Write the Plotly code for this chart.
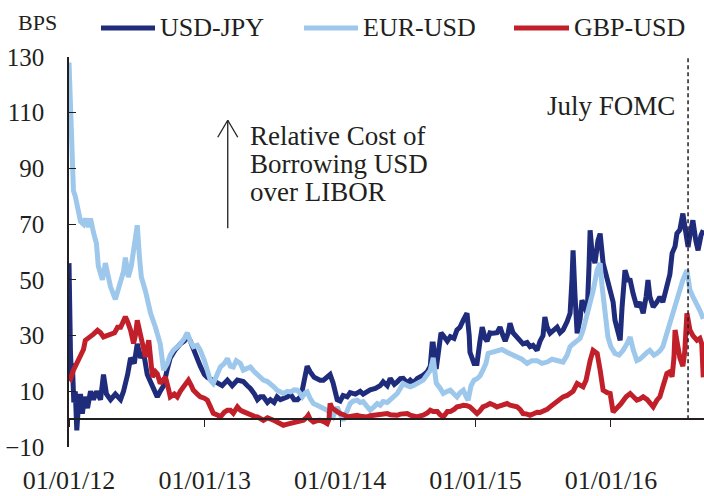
import plotly.graph_objects as go

# ---------------- data ----------------
jpy_dates = ["2012-01-01","2012-01-02","2012-01-05","2012-01-08","2012-01-10","2012-01-14","2012-01-18","2012-01-22","2012-01-26",
"2012-02-01","2012-02-06","2012-02-12","2012-02-20","2012-02-28","2012-03-07","2012-03-15","2012-03-26","2012-04-03","2012-04-11",
"2012-04-22","2012-05-05","2012-05-19","2012-05-27","2012-06-07","2012-06-15","2012-06-25","2012-07-03","2012-07-12","2012-07-20",
"2012-07-30","2012-08-08","2012-08-18","2012-08-26","2012-09-03","2012-09-12","2012-09-22","2012-09-30","2012-10-14","2012-10-27",
"2012-11-07","2012-11-15","2012-11-23","2012-12-01","2012-12-12","2012-12-20","2012-12-31","2013-01-08","2013-01-22","2013-02-04",
"2013-02-17","2013-03-03","2013-03-16","2013-03-30","2013-04-15","2013-04-26","2013-05-04","2013-05-15","2013-05-23","2013-05-31",
"2013-06-08","2013-06-19","2013-06-27","2013-07-07","2013-07-15","2013-07-24","2013-08-01","2013-08-12","2013-08-20","2013-08-30",
"2013-09-08","2013-09-16","2013-09-21","2013-09-29","2013-10-04","2013-10-12","2013-10-23","2013-10-31","2013-11-08","2013-11-17",
"2013-11-27","2013-12-05","2013-12-13","2013-12-19","2013-12-24","2014-01-01","2014-01-09","2014-01-20","2014-01-28","2014-02-11",
"2014-02-24","2014-03-04","2014-03-15","2014-03-23","2014-04-06","2014-04-19","2014-04-27","2014-05-08","2014-05-16","2014-05-27",
"2014-06-04","2014-06-12","2014-06-20","2014-07-01","2014-07-09","2014-07-17","2014-07-28","2014-08-05","2014-08-13","2014-08-24",
"2014-09-01","2014-09-06","2014-09-09","2014-09-17","2014-09-22","2014-09-30","2014-10-06","2014-10-17","2014-10-25","2014-11-04",
"2014-11-12","2014-11-20","2014-11-29","2014-12-09","2014-12-15","2014-12-17","2014-12-28","2015-01-05","2015-01-13","2015-01-19",
"2015-01-27","2015-02-01","2015-02-09","2015-02-17","2015-02-28","2015-03-08","2015-03-16","2015-03-22","2015-03-30","2015-04-04",
"2015-04-12","2015-04-23","2015-05-01","2015-05-09","2015-05-20","2015-05-28","2015-06-05","2015-06-16","2015-06-24","2015-07-02",
"2015-07-07","2015-07-13","2015-07-21","2015-07-29","2015-08-09","2015-08-17","2015-08-25","2015-09-05","2015-09-13","2015-09-18",
"2015-09-21","2015-09-26","2015-10-02","2015-10-10","2015-10-15","2015-10-23","2015-10-29","2015-11-03","2015-11-06","2015-11-11",
"2015-11-19","2015-11-27","2015-12-03","2015-12-11","2015-12-19","2015-12-30","2016-01-07","2016-01-12","2016-01-20","2016-01-26",
"2016-01-31","2016-02-08","2016-02-16","2016-02-22","2016-03-01","2016-03-11","2016-03-19","2016-03-28","2016-04-05","2016-04-10",
"2016-04-15","2016-04-24","2016-05-04","2016-05-12","2016-05-20","2016-05-31","2016-06-08","2016-06-14","2016-06-22","2016-06-27",
"2016-07-05","2016-07-13","2016-07-21","2016-07-27","2016-08-01","2016-08-09","2016-08-17","2016-08-23","2016-08-31","2016-09-06"]
jpy_values = [56,44,24,14,20,6,10,-4,4,
9,2,8,4,10,7,10,7,16,9,
7,9,7,10,16,22,20,27,22,24,
16,13,10,8,10,12,18,22,25,27,
28,30,28,25,22,19,16,15,14,13,
12,14,12,14,13.5,12,11,9,7,8,
8,6,7,6,8,7,7.4,8,9,7,
7,8,10.5,16,19,17,15,14.5,14,14,
15,16,13,10,7,6.5,8.5,8,9.5,9,
10,9,10,10.5,11,12,13.4,12,14.6,12.5,
13.4,14.5,14.6,13,14,13,14.6,15,15.8,17,
19,27,27,18,22,31,30,28,29.6,29,
32,33,35.5,38,30,24,20,20,28,33,
29,28,31,30.8,31,33,30,28,31,34.4,
31,29.5,28,27,27.5,26,26.5,24.7,28,30,
36.7,33,30.8,32,33,31,32,35,38,50,
60.6,45,30.8,36,42.7,40,38,55,67.8,60,
56,64,66.6,56,52,47.5,42,35.5,32,28.3,
40,53.5,50,49.9,45,40.3,42,38,44,49.9,
44,40.3,42,43.9,42,47.5,52,59.5,62,66.6,
68,73.8,66,61.8,66,71.4,64,60.6,66,67.8]

eur_dates = ["2012-01-01","2012-01-05","2012-01-09","2012-01-13","2012-01-18","2012-01-24","2012-02-01","2012-02-09","2012-02-14",
"2012-02-22","2012-02-28","2012-03-07","2012-03-15","2012-03-20","2012-03-31","2012-04-08","2012-04-16","2012-04-22","2012-05-05",
"2012-05-19","2012-05-27","2012-06-01","2012-06-09","2012-06-17","2012-06-23","2012-07-01","2012-07-03","2012-07-09","2012-07-14",
"2012-07-25","2012-08-08","2012-08-21","2012-08-29","2012-09-03","2012-09-12","2012-09-22","2012-09-30","2012-10-08","2012-10-19",
"2012-10-27","2012-11-07","2012-11-15","2012-11-23","2012-12-01","2012-12-12","2012-12-20","2012-12-31","2013-01-08","2013-01-16",
"2013-01-24","2013-02-04","2013-02-12","2013-02-23","2013-03-03","2013-03-11","2013-03-19","2013-03-27","2013-04-07","2013-04-15",
"2013-04-26","2013-05-04","2013-05-15","2013-05-23","2013-05-31","2013-06-08","2013-06-19","2013-06-27","2013-07-07","2013-07-15",
"2013-07-24","2013-08-01","2013-08-12","2013-08-20","2013-08-30","2013-09-08","2013-09-16","2013-09-21","2013-09-29","2013-10-04",
"2013-10-12","2013-10-21","2013-10-31","2013-11-08","2013-11-19","2013-11-27","2013-12-05","2013-12-13","2013-12-24","2014-01-01",
"2014-01-09","2014-01-17","2014-01-28","2014-02-05","2014-02-16","2014-02-24","2014-03-04","2014-03-15","2014-03-23","2014-04-03",
"2014-04-11","2014-04-19","2014-04-27","2014-05-08","2014-05-16","2014-05-27","2014-06-04","2014-06-12","2014-06-20","2014-07-01",
"2014-07-09","2014-07-17","2014-07-28","2014-08-05","2014-08-13","2014-08-24","2014-09-01","2014-09-09","2014-09-17","2014-09-28",
"2014-10-06","2014-10-17","2014-10-25","2014-11-04","2014-11-12","2014-11-20","2014-11-29","2014-12-07","2014-12-12","2014-12-20",
"2014-12-28","2015-01-05","2015-01-13","2015-01-21","2015-01-29","2015-02-04","2015-02-14","2015-02-28","2015-03-13","2015-03-27",
"2015-04-09","2015-04-23","2015-05-06","2015-05-20","2015-06-02","2015-06-16","2015-06-29","2015-07-13","2015-07-26","2015-08-09",
"2015-08-25","2015-09-05","2015-09-13","2015-09-21","2015-10-02","2015-10-10","2015-10-18","2015-10-26","2015-11-06","2015-11-14",
"2015-11-25","2015-12-03","2015-12-08","2015-12-14","2015-12-24","2016-01-01","2016-01-12","2016-01-23","2016-02-03","2016-02-13",
"2016-02-22","2016-03-01","2016-03-11","2016-03-19","2016-03-28","2016-04-08","2016-04-15","2016-04-26","2016-05-04","2016-05-12",
"2016-05-20","2016-05-31","2016-06-08","2016-06-16","2016-06-27","2016-07-05","2016-07-13","2016-07-24","2016-08-01","2016-08-09",
"2016-08-20","2016-08-28","2016-09-06"]
eur_values = [128,114,97,82,80,75,71,70,72,
69,72,67,63,55,50,56,50,47.5,43,
48.7,53,58,51,55,60.6,65,69.6,58,51,
46,38,33,30,27,17.6,20,23,24.7,26,
27,29,31,28,26,26.5,24.7,21,17.6,14,
12.8,16,18.7,20,21.8,19,18.7,21,20,17.6,
18,18.7,17,15.8,15,14,13.5,12.8,11.5,10.4,
9.5,9.2,10,9.8,10.5,10.4,9,8,9.5,9.8,
7.5,5.6,5,4.4,3.5,3.2,2,0.8,4.4,1.5,
-0.5,2,5.6,6.5,6.8,6,6.3,4.5,3.2,4.5,
5.6,5,6.3,6,6.8,8,9.2,11,12.8,12,
11.6,12,12.8,13.5,14,16,17.5,22,13,11,
9.2,10,10.4,9,8,9.5,10.4,8,6.8,12,
14,14.5,15.5,17.6,20,23.6,24,24.7,25,24,
23,22.3,21.5,20,21,21,20,20.5,21.5,21,
20.5,23,26,27,28.3,29,32,36,40.3,46,
53.5,56,48,40.3,29.5,26,23.6,23,24.7,27,
29.5,25,21,21.5,22.8,24,24.7,23,23.6,24.5,
26,31,34.4,39,43,47.5,49.9,53.5,46.3,44,
41.5,39,36]

gbp_dates = ["2012-01-01","2012-01-05","2012-01-13","2012-01-22","2012-02-01","2012-02-09","2012-02-14","2012-02-22","2012-02-28",
"2012-03-07","2012-03-18","2012-03-26","2012-04-03","2012-04-14","2012-04-22","2012-05-03","2012-05-11","2012-05-19","2012-05-24",
"2012-06-01","2012-06-07","2012-06-15","2012-06-23","2012-06-28","2012-07-03","2012-07-12","2012-07-20","2012-07-25","2012-08-03",
"2012-08-08","2012-08-13","2012-08-21","2012-08-26","2012-09-03","2012-09-12","2012-09-17","2012-09-25","2012-09-30","2012-10-11",
"2012-10-19","2012-10-27","2012-11-04","2012-11-12","2012-11-18","2012-11-26","2012-12-01","2012-12-12","2012-12-20","2012-12-31",
"2013-01-08","2013-01-16","2013-01-24","2013-02-04","2013-02-12","2013-02-23","2013-03-03","2013-03-11","2013-03-19","2013-03-30",
"2013-04-07","2013-04-15","2013-04-26","2013-05-04","2013-05-15","2013-05-23","2013-05-31","2013-06-08","2013-06-19","2013-06-27",
"2013-07-07","2013-07-15","2013-07-24","2013-08-01","2013-08-12","2013-08-20","2013-08-30","2013-09-08","2013-09-16","2013-09-24",
"2013-10-02","2013-10-07","2013-10-12","2013-10-21","2013-10-31","2013-11-08","2013-11-19","2013-11-27","2013-12-02","2013-12-05",
"2013-12-10","2013-12-18","2013-12-26","2014-01-01","2014-01-12","2014-01-20","2014-01-28","2014-02-08","2014-02-16","2014-02-24",
"2014-03-07","2014-03-15","2014-03-23","2014-04-03","2014-04-11","2014-04-19","2014-04-30","2014-05-08","2014-05-16","2014-05-27",
"2014-06-04","2014-06-12","2014-06-23","2014-07-01","2014-07-09","2014-07-20","2014-07-28","2014-08-05","2014-08-13","2014-08-24",
"2014-09-01","2014-09-09","2014-09-20","2014-09-28","2014-10-06","2014-10-17","2014-10-25","2014-11-04","2014-11-12","2014-11-20",
"2014-11-29","2014-12-09","2014-12-17","2014-12-28","2015-01-05","2015-01-13","2015-01-21","2015-02-01","2015-02-09","2015-02-20",
"2015-02-28","2015-03-08","2015-03-19","2015-03-27","2015-04-04","2015-04-15","2015-04-23","2015-05-01","2015-05-09","2015-05-20",
"2015-05-28","2015-06-08","2015-06-16","2015-06-24","2015-07-02","2015-07-13","2015-07-21","2015-08-01","2015-08-09","2015-08-17",
"2015-08-25","2015-09-05","2015-09-13","2015-09-21","2015-10-02","2015-10-10","2015-10-18","2015-10-26","2015-10-31","2015-11-06",
"2015-11-14","2015-11-25","2015-12-03","2015-12-11","2015-12-22","2015-12-30","2016-01-07","2016-01-12","2016-01-20","2016-01-28",
"2016-02-03","2016-02-11","2016-02-22","2016-03-01","2016-03-11","2016-03-19","2016-03-28","2016-04-08","2016-04-15","2016-04-24",
"2016-05-04","2016-05-12","2016-05-20","2016-05-31","2016-06-08","2016-06-14","2016-06-19","2016-06-22","2016-06-27","2016-06-30",
"2016-07-05","2016-07-13","2016-07-18","2016-07-24","2016-07-29","2016-08-01","2016-08-09","2016-08-20","2016-08-28","2016-09-02",
"2016-09-06"]
gbp_values = [15,14.5,17.6,20,22.3,25,28.3,29,29.5,
30.5,31.9,31,29.5,30,30.8,31,33,33,34.4,
36.7,35,31.9,27.2,30,35.5,29.5,26,22.3,28.3,
22,15.1,17,16.3,12.8,14,15.1,11,8,9,
8,10,11.6,12.5,14,12,10.4,9,8,7.5,
6.8,4.5,2.1,1.5,0.8,2.5,3.2,3.2,2.1,4.4,
3.2,2.7,2,1.4,1,0.8,0.2,-0.4,0.5,0.2,
-0.5,-1,-1.5,-2.2,-1.8,-1.6,-1.2,-1,-0.8,-0.4,
0.5,1.4,0,-1,-0.5,-0.4,-1,-1.6,0,5.6,
4,3.2,2.5,2,1.5,0.8,1,1.4,1.4,1,
0.8,0.8,1.2,1.4,1.4,1.8,2,2,1.6,1.4,
1.4,1.8,2,2,1.4,1,0.8,1.2,1.4,2.2,
3.2,2.7,2.7,1.5,0.8,2.7,2.7,3.5,4.4,4.6,
5,4.8,4.4,3,2,3,4.4,5,5.6,5,
4.4,4.8,5.4,5.6,5,4.6,4.4,3.5,2,1.8,
1.4,2,2.5,2.4,2.7,3.5,4.4,5.5,6.2,7,
8,8.5,9.2,10,12.8,12,11.6,14,18,21,
24.7,23.6,17.6,10.4,9.5,9.2,2.5,3.5,4.4,5.5,
6.8,8,9.2,8,6.8,7.2,8,7,5.6,4.4,
6.8,8,11.6,16.4,17,15.2,22,32,28,26,
22,19,24,38,35,32,30,28.3,29,27,
15]

series_names = ["USD-JPY", "EUR-USD", "GBP-USD"]
series_colors = ["#1F2B7B", "#9DC7EB", "#C1202A"]

tick_dates = ["2012-01-01", "2013-01-01", "2014-01-01", "2015-01-01", "2016-01-01"]
tick_labels = ["01/01/12", "01/01/13", "01/01/14", "01/01/15", "01/01/16"]
y_ticks = [-10, 10, 30, 50, 70, 90, 110, 130]
fomc_date = "2016-07-27"

# ---------------- figure ----------------
FONT = "Liberation Serif"
TXT = "#231F20"
L, R, T, B, W, H = 69, 0, 57, 49, 704, 496
PW, PH = W - L - R, H - T - B


def px(xp):
    return (xp - L) / PW


def py(yp):
    return (H - B - yp) / PH


fig = go.Figure()
for name, xs, ys, col in zip(series_names, [jpy_dates, eur_dates, gbp_dates],
                             [jpy_values, eur_values, gbp_values], series_colors):
    fig.add_trace(go.Scatter(x=xs, y=ys, name=name, mode="lines",
                             line=dict(color=col, width=5)))

# hand-made legend (long thick line samples as in the reference)
leg_line_x = [(101, 155), (304, 358), (514, 569)]
leg_text_x = [158, 361, 572]
for name, col, (a, b), tx in zip(series_names, series_colors, leg_line_x, leg_text_x):
    fig.add_shape(type="line", xref="paper", yref="paper", x0=px(a), x1=px(b),
                  y0=py(28), y1=py(28), line=dict(color=col, width=5))
    fig.add_annotation(text=name, xref="paper", yref="paper", x=px(tx), y=py(27),
                       xanchor="left", yanchor="middle", showarrow=False,
                       font=dict(family=FONT, size=26, color=TXT))

# vertical dashed FOMC line
fig.add_shape(type="line", xref="x", yref="y", x0=fomc_date, x1=fomc_date, y0=0, y1=131,
              line=dict(color="#231F20", width=1.5, dash="4px,3px"))

# arrow (line + open head)
arrow_x = "2013-03-04"
fig.add_shape(type="line", xref="x", yref="y", x0=arrow_x, x1=arrow_x, y0=68.5, y1=107.3,
              line=dict(color=TXT, width=1.3))
fig.add_shape(type="line", xref="x", yref="y", x0="2013-02-05", x1=arrow_x, y0=101.2, y1=107.3,
              line=dict(color=TXT, width=1.3))
fig.add_shape(type="line", xref="x", yref="y", x0="2013-03-31", x1=arrow_x, y0=101.2, y1=107.3,
              line=dict(color=TXT, width=1.3))

ann_font = dict(family=FONT, size=27, color=TXT)
for txt, yy in [("Relative Cost of", 136), ("Borrowing USD", 164), ("over LIBOR", 192)]:
    fig.add_annotation(text=txt, xref="paper", yref="paper", x=px(248), y=py(yy),
                       xanchor="left", yanchor="middle", showarrow=False, font=ann_font)
fig.add_annotation(text="July FOMC", xref="paper", yref="paper", x=px(611), y=py(106),
                   xanchor="center", yanchor="middle", showarrow=False, font=ann_font)
fig.add_annotation(text="BPS", xref="paper", yref="paper", x=px(37), y=py(22),
                   xanchor="center", yanchor="middle", showarrow=False,
                   font=dict(family=FONT, size=22, color=TXT))

fig.update_layout(
    width=W, height=H,
    margin=dict(l=L, r=R, t=T, b=B, autoexpand=False),
    paper_bgcolor="white", plot_bgcolor="white",
    font=dict(family=FONT, size=25, color=TXT),
    showlegend=False,
    xaxis=dict(type="date", range=["2012-01-01", "2016-09-08"],
               anchor="free", position=10/140, automargin=False,
               tickvals=tick_dates, ticktext=tick_labels,
               showline=True, linecolor=TXT, linewidth=1.5,
               ticks="outside", ticklen=7, tickwidth=1.3, tickcolor=TXT,
               ticklabelstandoff=31, showgrid=False, zeroline=False,
               tickfont=dict(family=FONT, size=26, color=TXT)),
    yaxis=dict(range=[-10, 130], tickvals=y_ticks, automargin=False,
               showline=True, linecolor=TXT, linewidth=1.5,
               ticks="inside", ticklen=7, tickwidth=1.3, tickcolor=TXT,
               ticklabelstandoff=18, showgrid=False, zeroline=False,
               tickfont=dict(family=FONT, size=25, color=TXT)),
)

fig.write_html("out.html", config={"displayModeBar": False},
               post_script="document.body.style.margin='0';")
